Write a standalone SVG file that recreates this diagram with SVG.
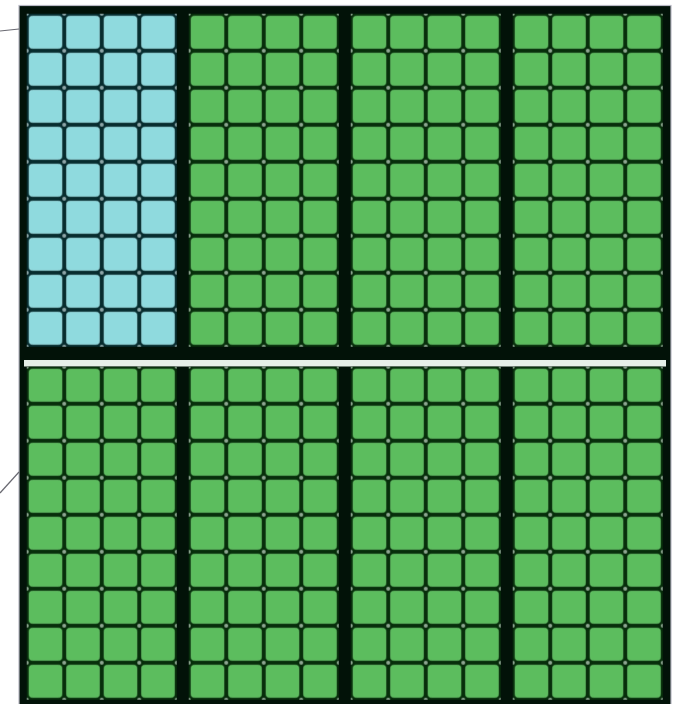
<svg xmlns="http://www.w3.org/2000/svg" width="679" height="704" viewBox="0 0 679 704">
  <defs>
    <pattern id="pg" patternUnits="userSpaceOnUse" x="-2.25" y="-2.25" width="37.5" height="37">
      <rect x="0" y="0" width="37.5" height="37" fill="#072e0b"/>
      <rect x="2.4" y="2.4" width="32.7" height="32.2" rx="3" fill="#5cbd5e" stroke="#68c66a" stroke-width="0.8"/>
      <g fill="#c8d8cc" opacity="0.7">
        <circle cx="0" cy="0" r="2"/><circle cx="37.5" cy="0" r="2"/>
        <circle cx="0" cy="37" r="2"/><circle cx="37.5" cy="37" r="2"/>
      </g>
    </pattern>
    <pattern id="pc" patternUnits="userSpaceOnUse" x="-2.25" y="-2.25" width="37.5" height="37">
      <rect x="0" y="0" width="37.5" height="37" fill="#072c2e"/>
      <rect x="2.4" y="2.4" width="32.7" height="32.2" rx="3" fill="#8fdade" stroke="#a2e3e7" stroke-width="0.8"/>
      <g fill="#c8dadc" opacity="0.7">
        <circle cx="0" cy="0" r="2"/><circle cx="37.5" cy="0" r="2"/>
        <circle cx="0" cy="37" r="2"/><circle cx="37.5" cy="37" r="2"/>
      </g>
    </pattern>
    <style>
      .g { fill: url(#pg); }
      .c { fill: url(#pc); }
      .lead { stroke: #6a6a72; stroke-width: 1.2; fill: none; }
    </style>
  </defs>
  <rect width="679" height="704" fill="#ffffff"/>
  <g id="frame">
    <rect x="19" y="5.5" width="652" height="700" fill="#021208" stroke="#b8b8c4" stroke-width="1.2"/>
    <rect x="24" y="360" width="642" height="6.5" fill="#e6efe8"/>
  </g>
  <g id="block-top-1" transform="translate(29,16)"><rect class="c" x="-2.25" y="-2.25" width="150" height="333"/></g>
  <g id="block-top-2" transform="translate(191,16)"><rect class="g" x="-2.25" y="-2.25" width="150" height="333"/></g>
  <g id="block-top-3" transform="translate(353,16)"><rect class="g" x="-2.25" y="-2.25" width="150" height="333"/></g>
  <g id="block-top-4" transform="translate(515,16)"><rect class="g" x="-2.25" y="-2.25" width="150" height="333"/></g>
  <g id="block-bottom-1" transform="translate(29,369)"><rect class="g" x="-2.25" y="-2.25" width="150" height="333"/></g>
  <g id="block-bottom-2" transform="translate(191,369)"><rect class="g" x="-2.25" y="-2.25" width="150" height="333"/></g>
  <g id="block-bottom-3" transform="translate(353,369)"><rect class="g" x="-2.25" y="-2.25" width="150" height="333"/></g>
  <g id="block-bottom-4" transform="translate(515,369)"><rect class="g" x="-2.25" y="-2.25" width="150" height="333"/></g>
  <g id="connectors">
    <line class="lead" x1="0" y1="31" x2="19" y2="29"/>
    <line class="lead" x1="0" y1="493" x2="19" y2="472"/>
  </g>
</svg>
